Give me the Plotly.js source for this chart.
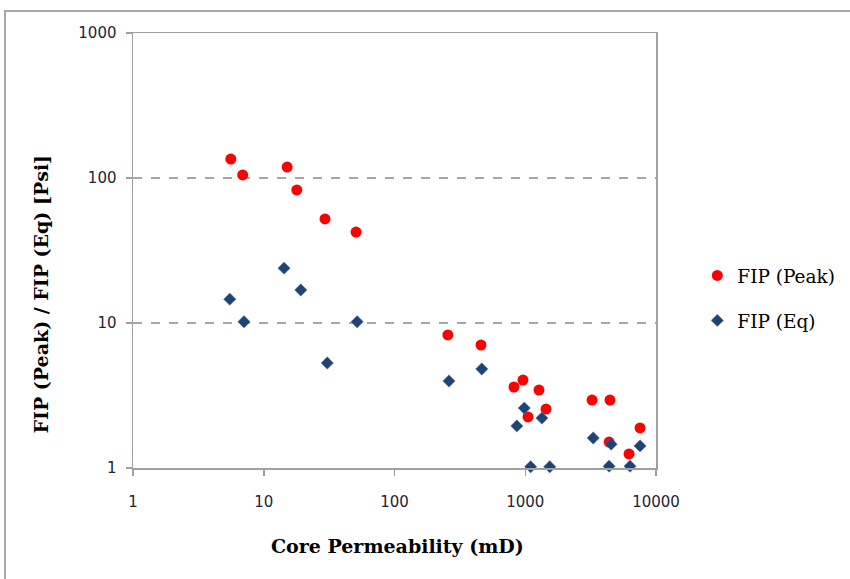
<!DOCTYPE html>
<html>
<head>
<meta charset="utf-8">
<script src="https://cdn.plot.ly/plotly-3.0.1.min.js"></script>
<style>html,body{margin:0;padding:0;background:#fff;}#chart{width:850px;height:579px;}</style>
</head>
<body>
<div id="chart"></div>
<script>
// Core permeability (mD) and FIP values (psi)
const peakPermeability = [5.6, 6.9, 15.1, 17.9, 29.4, 50.8, 256, 459, 820, 961, 1050, 1274, 1442, 3243, 4447, 4380, 6220, 7550];
const peakFIP          = [135, 105, 119, 82.7, 52.2, 42.4, 8.27, 7.05, 3.62, 4.04, 2.25, 3.45, 2.55, 2.94, 2.94, 1.51, 1.25, 1.89];
const eqPermeability   = [5.5, 7.06, 14.3, 19.2, 30.6, 51.8, 261, 465, 862, 983, 1100, 1341, 1540, 3310, 4540, 4380, 6330, 7550];
const eqFIP            = [14.6, 10.2, 23.9, 16.9, 5.3, 10.2, 3.98, 4.82, 1.95, 2.59, 1.02, 2.21, 1.02, 1.61, 1.46, 1.03, 1.03, 1.42];
const xTickValues = [1, 10, 100, 1000, 10000];
const xTickLabels = ["1", "10", "100", "1000", "10000"];
const yTickValues = [1, 10, 100, 1000];
const yTickLabels = ["1", "10", "100", "1000"];
const seriesNames = ["FIP (Peak)", "FIP (Eq)"];

const serif = "DejaVu Serif, Liberation Serif, serif";
const sans = "DejaVu Sans, Liberation Sans, sans-serif";

const traces = [
  {
    x: peakPermeability, y: peakFIP, name: seriesNames[0], type: "scatter", mode: "markers",
    legendgroup: "a", cliponaxis: false,
    marker: {symbol: "circle", size: 11, color: "#ff0000", line: {width: 0}}
  },
  {
    x: eqPermeability, y: eqFIP, name: seriesNames[1], type: "scatter", mode: "markers",
    legendgroup: "b", cliponaxis: false,
    marker: {symbol: "diamond", size: 9.5, color: "#1f4372", line: {width: 0.5, color: "#5a7fb0"}}
  }
];

const layout = {
  width: 850, height: 579,
  margin: {l: 133, r: 194, t: 33, b: 111, autoexpand: false},
  paper_bgcolor: "#ffffff", plot_bgcolor: "#ffffff",
  showlegend: true,
  legend: {
    x: 1.079, y: 0.39, xanchor: "left", yanchor: "middle",
    font: {family: serif, size: 18.5, color: "#000"},
    traceorder: "grouped", tracegroupgap: 18,
    bgcolor: "rgba(0,0,0,0)", itemwidth: 30
  },
  xaxis: {
    type: "log", range: [0, 4],
    tickvals: xTickValues, ticktext: xTickLabels,
    showgrid: false, zeroline: false,
    showline: true, mirror: true, linecolor: "#a0a0a0", linewidth: 1.5,
    ticks: "outside", ticklen: 6, tickcolor: "#a0a0a0", tickwidth: 1.5,
    ticklabelstandoff: 13,
    tickfont: {family: sans, size: 15, color: "#1e2533"}
  },
  yaxis: {
    type: "log", range: [0, 3],
    tickvals: yTickValues, ticktext: yTickLabels,
    showgrid: true, gridcolor: "#a6a6a6", griddash: "dash", gridwidth: 1.2,
    zeroline: false,
    showline: true, mirror: true, linecolor: "#a0a0a0", linewidth: 1.5,
    ticks: "outside", ticklen: 6, tickcolor: "#a0a0a0", tickwidth: 1.5,
    ticklabelstandoff: 6,
    tickfont: {family: sans, size: 15, color: "#1e2533"}
  },
  annotations: [
    {text: "<b>Core Permeability (mD)</b>", xref: "paper", yref: "paper",
     x: 0.505, y: -0.18, xanchor: "center", yanchor: "middle", showarrow: false,
     font: {family: serif, size: 19, color: "#000"}},
    {text: "<b>FIP (Peak) / FIP (Eq) [Psi]</b>", xref: "paper", yref: "paper",
     x: -0.175, y: 0.40, xanchor: "center", yanchor: "middle", showarrow: false, textangle: -90,
     font: {family: serif, size: 19, color: "#000"}}
  ],
  shapes: [
    {type: "rect", xref: "paper", yref: "paper", x0: -0.2447, x1: 1.38, y0: -0.27, y1: 1.0506,
     line: {color: "#a8a8a8", width: 2}, fillcolor: "rgba(0,0,0,0)", layer: "below"}
  ]
};

Plotly.newPlot("chart", traces, layout, {displayModeBar: false, staticPlot: true});
</script>
</body>
</html>
